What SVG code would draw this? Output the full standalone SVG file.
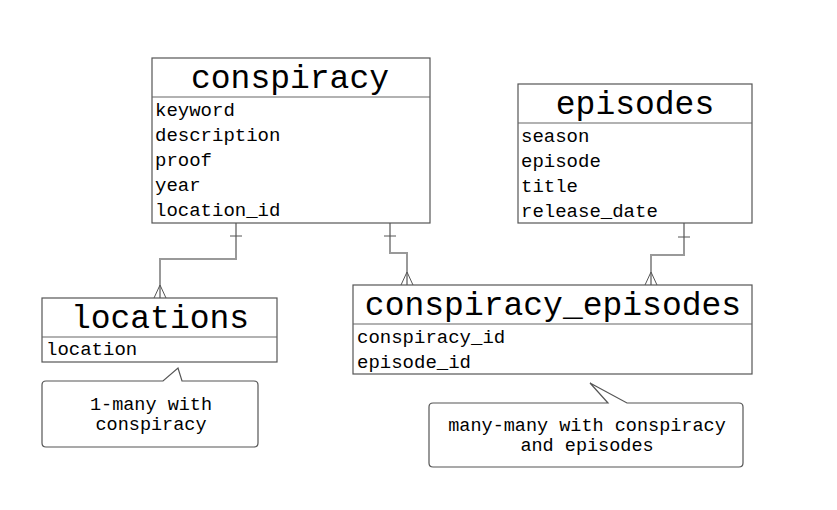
<svg xmlns="http://www.w3.org/2000/svg" width="837" height="510" viewBox="0 0 837 510">
<style>
.box{fill:#fff;stroke:#555;stroke-width:1.2}
.sep{stroke:#666;stroke-width:1.2}
.title{font-family:"Liberation Mono",monospace;font-size:33px;fill:#000;text-anchor:middle}
.row{font-family:"Liberation Mono",monospace;font-size:19px;fill:#000}
.note{font-family:"Liberation Mono",monospace;font-size:18.5px;fill:#000;text-anchor:middle}
.conn{fill:none;stroke:#999;stroke-width:2}
.tick{stroke:#555;stroke-width:1}
.crow{fill:none;stroke:#555;stroke-width:1}
.call{fill:#fff;stroke:#555;stroke-width:1.2}
</style>
<rect width="837" height="510" fill="#fff"/>
<g id="connectors">
<polyline class="conn" points="236,223 236,259 160,259 160,298"/>
<line class="tick" x1="230" y1="236" x2="242" y2="236"/>
<polyline class="crow" points="154,298 160,285 166,298"/>
<polyline class="conn" points="390,223 390,253 407,253 407,285"/>
<line class="tick" x1="384" y1="236" x2="396" y2="236"/>
<polyline class="crow" points="401,285 407,272 413,285"/>
<polyline class="conn" points="684,223 684,255 651,255 651,285"/>
<line class="tick" x1="678" y1="237" x2="690" y2="237"/>
<polyline class="crow" points="645,285 651,272 657,285"/>
</g>
<g id="conspiracy">
<rect class="box" x="152" y="58" width="278" height="165"/>
<line class="sep" x1="152" y1="97" x2="430" y2="97"/>
<text class="title" x="290" y="88">conspiracy</text>
<text class="row" x="155" y="116">keyword</text>
<text class="row" x="155" y="141">description</text>
<text class="row" x="155" y="166">proof</text>
<text class="row" x="155" y="191">year</text>
<text class="row" x="155" y="216">location_id</text>
</g>
<g id="episodes">
<rect class="box" x="518" y="84" width="234" height="139"/>
<line class="sep" x1="518" y1="123" x2="752" y2="123"/>
<text class="title" x="635" y="114">episodes</text>
<text class="row" x="521" y="142">season</text>
<text class="row" x="521" y="167">episode</text>
<text class="row" x="521" y="192">title</text>
<text class="row" x="521" y="217">release_date</text>
</g>
<g id="conspiracy_episodes">
<rect class="box" x="353" y="285" width="399" height="89"/>
<line class="sep" x1="353" y1="324" x2="752" y2="324"/>
<text class="title" x="553" y="315">conspiracy_episodes</text>
<text class="row" x="357" y="343">conspiracy_id</text>
<text class="row" x="357" y="368">episode_id</text>
</g>
<g id="locations">
<rect class="box" x="42" y="298" width="235" height="64"/>
<line class="sep" x1="42" y1="337" x2="277" y2="337"/>
<text class="title" x="160" y="328">locations</text>
<text class="row" x="46" y="355">location</text>
</g>
<g id="note1">
<path class="call" d="M46,381 L163,381 L178,368 L182,381 L254,381 Q258,381 258,385 L258,443 Q258,447 254,447 L46,447 Q42,447 42,443 L42,385 Q42,381 46,381 Z"/>
<text class="note" x="151" y="410">1-many with</text>
<text class="note" x="151" y="430">conspiracy</text>
</g>
<g id="note2">
<path class="call" d="M433,403 L608,403 L590,383 L627,403 L739,403 Q743,403 743,407 L743,463 Q743,467 739,467 L433,467 Q429,467 429,463 L429,407 Q429,403 433,403 Z"/>
<text class="note" x="587" y="431">many-many with conspiracy</text>
<text class="note" x="587" y="451">and episodes</text>
</g>
</svg>
